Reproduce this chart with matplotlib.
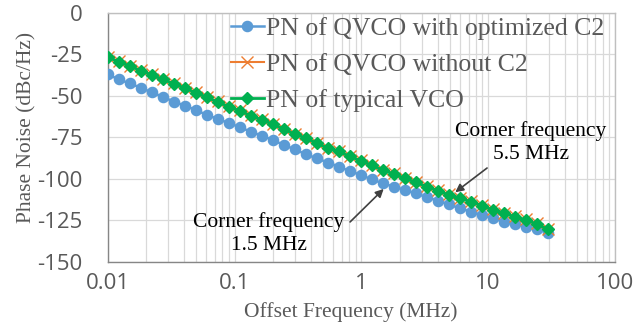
import matplotlib.pyplot as plt
from matplotlib.ticker import FixedLocator, FixedFormatter, LogLocator, NullFormatter

plt.rcParams['axes.unicode_minus'] = False

# offset frequency points (MHz)
freq_mhz = [0.0100, 0.0122, 0.0149, 0.0182, 0.0222, 0.0271, 0.0331, 0.0405,
            0.0494, 0.0603, 0.0736, 0.0899, 0.110, 0.134, 0.164, 0.200,
            0.244, 0.298, 0.364, 0.444, 0.542, 0.662, 0.808, 0.987,
            1.205, 1.471, 1.796, 2.193, 2.677, 3.269, 3.990, 4.872,
            5.949, 7.263, 8.868, 10.83, 13.22, 16.14, 19.71, 24.06, 29.38]

# phase noise (dBc/Hz)
pn_opt_c2 = [-36.9, -40.0, -42.4, -45.0, -47.8, -50.4, -53.4, -55.8,
             -58.4, -61.4, -63.8, -66.3, -68.8, -71.5, -73.9, -76.5,
             -79.5, -82.1, -85.1, -87.5, -90.1, -92.5, -95.2, -97.6,
             -100.2, -102.6, -104.6, -106.6, -108.6, -111.0, -113.0, -115.3,
             -117.6, -119.7, -121.7, -123.7, -125.7, -127.1, -128.7, -130.3, -132.3]

pn_no_c2 = [-26.4, -29.0, -31.7, -34.4, -37.0, -39.7, -42.3, -45.0,
            -47.7, -50.5, -53.3, -56.1, -58.7, -61.5, -64.1, -66.7,
            -69.7, -72.7, -75.1, -78.1, -81.1, -83.1, -86.1, -88.7,
            -91.5, -94.3, -96.7, -99.3, -101.7, -104.3, -106.7, -109.3,
            -111.3, -113.3, -115.7, -118.3, -120.3, -122.4, -124.4, -126.8, -130.0]

pn_typical = [-26.7, -29.3, -32.0, -34.7, -37.3, -40.0, -42.6, -45.3,
              -48.0, -50.8, -53.6, -56.4, -59.0, -61.8, -64.4, -67.0,
              -70.0, -73.0, -75.4, -78.4, -81.4, -83.4, -86.4, -89.0,
              -91.8, -94.6, -97.0, -99.6, -102.0, -104.6, -107.0, -109.6,
              -111.6, -113.6, -116.0, -118.6, -120.6, -122.7, -124.7, -127.1, -130.3]

x_ticks = [0.01, 0.1, 1, 10, 100]
x_tick_labels = ['0.01', '0.1', '1', '10', '100']
y_ticks = [0, -25, -50, -75, -100, -125, -150]

serif = 'Liberation Serif'
gray_txt = '#595959'

fig = plt.figure(figsize=(6.36, 3.25), dpi=100)
ax = fig.add_axes([0.1693, 0.194, 0.7977, 0.766])

ax.plot(freq_mhz, pn_opt_c2, color='#5B9BD5', lw=1.8, marker='o', ms=7.3,
        label='PN of QVCO with optimized C2', zorder=3)
ax.plot(freq_mhz, pn_no_c2, color='#ED7D31', lw=1.5, marker='x', ms=8, mew=1.0,
        label='PN of QVCO without C2', zorder=4)
ax.plot(freq_mhz, pn_typical, color='#00B050', lw=2.0, marker='D', ms=6.3,
        label='PN of typical VCO', zorder=5)

ax.set_xscale('log')
ax.set_xlim(0.01, 100)
ax.set_ylim(-150, 0)
ax.xaxis.set_major_locator(FixedLocator(x_ticks))
ax.xaxis.set_major_formatter(FixedFormatter(x_tick_labels))
ax.xaxis.set_minor_locator(LogLocator(base=10, subs=range(2, 10)))
ax.xaxis.set_minor_formatter(NullFormatter())
ax.set_yticks(y_ticks)
ax.set_yticklabels([str(v) for v in y_ticks])

ax.grid(True, which='both', axis='x', color='#D9D9D9', lw=0.9)
ax.grid(True, which='major', axis='y', color='#D9D9D9', lw=0.9)
ax.set_axisbelow(True)

ax.tick_params(which='both', length=0)
ax.tick_params(axis='x', pad=8, labelsize=16, labelcolor=gray_txt)
ax.tick_params(axis='y', pad=18, labelsize=16, labelcolor=gray_txt)
for lab in ax.get_xticklabels() + ax.get_yticklabels():
    lab.set_fontfamily('Open Sans')

for side in ['left', 'bottom']:
    ax.spines[side].set_color('#868686')
    ax.spines[side].set_linewidth(1.0)
for side in ['top', 'right']:
    ax.spines[side].set_color('#BFBFBF')
    ax.spines[side].set_linewidth(1.0)

ax.set_xlabel('Offset Frequency (MHz)', family=serif, fontsize=15.5, color=gray_txt)
ax.set_ylabel('Phase Noise (dBc/Hz)', family=serif, fontsize=15.5, color=gray_txt)
ax.xaxis.set_label_coords(0.48, -0.16)
ax.yaxis.set_label_coords(-0.14, 0.542)

leg = ax.legend(loc='upper right', bbox_to_anchor=(1.0, 1.025), frameon=False,
                prop={'family': serif, 'size': 18.5}, handlelength=1.3,
                handletextpad=0.1, labelspacing=0.5, borderaxespad=0.0)
for t in leg.get_texts():
    t.set_color(gray_txt)

# corner frequency callouts
arrow = dict(arrowstyle='-|>', color='#404040', lw=1.2, mutation_scale=12, shrinkA=0, shrinkB=0)
ax.text(21.8, -78, 'Corner frequency\n5.5 MHz', ha='center', va='center',
        family=serif, fontsize=15.5, color='black', linespacing=1.3)
ax.annotate('', xy=(5.5, -108), xytext=(9.8, -93.4), arrowprops=arrow)
ax.text(0.187, -132.8, 'Corner frequency\n1.5 MHz', ha='center', va='center',
        family=serif, fontsize=15.5, color='black', linespacing=1.25)
ax.annotate('', xy=(1.5, -106), xytext=(0.815, -125.9), arrowprops=arrow)

fig.savefig('out.png', dpi=100)
